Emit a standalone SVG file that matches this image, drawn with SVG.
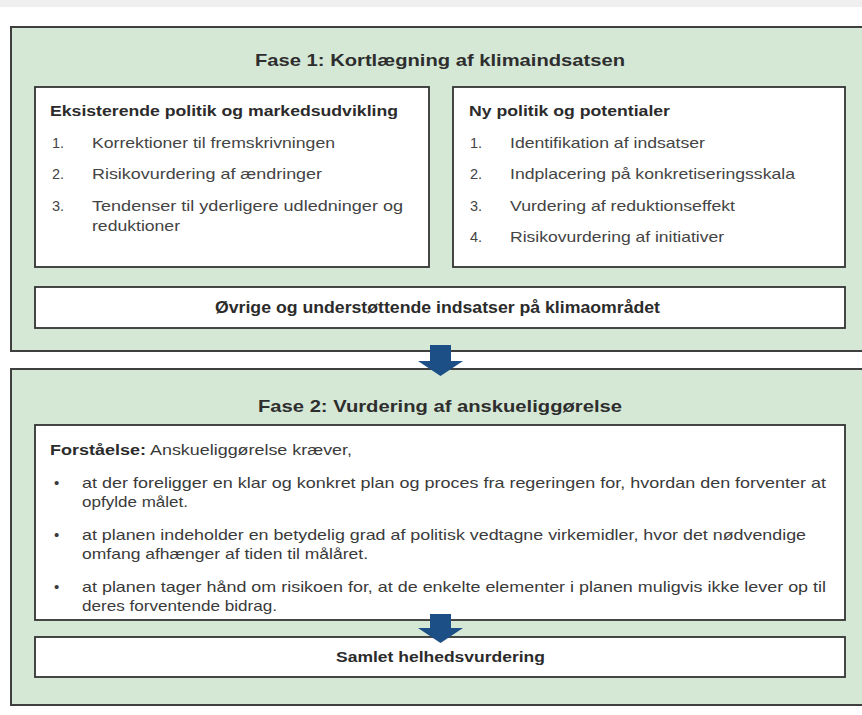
<svg xmlns="http://www.w3.org/2000/svg" width="862" height="715" viewBox="0 0 862 715">
  <style>
    .phase { fill: #d5e8d6; stroke: #3f3f3f; stroke-width: 2; }
    .box { fill: #ffffff; stroke: #333333; stroke-width: 1.8; }
    .title { font-family: "Liberation Sans", Arial, sans-serif; font-size: 17px; font-weight: bold; fill: #2e2e2e; }
    .head { font-family: "Liberation Sans", Arial, sans-serif; font-size: 14.5px; font-weight: bold; fill: #2b2b2b; }
    .item { font-family: "Liberation Sans", Arial, sans-serif; font-size: 14.5px; fill: #444444; }
    .body { font-family: "Liberation Sans", Arial, sans-serif; font-size: 15px; fill: #3a3a3a; }
    .bodyb { font-family: "Liberation Sans", Arial, sans-serif; font-size: 14.5px; font-weight: bold; fill: #2b2b2b; }
    .arrow { fill: #1c4f86; }
  </style>

  <!-- page background -->
  <rect x="0" y="0" width="862" height="715" fill="#ffffff"/>
  <rect x="0" y="0" width="862" height="7" fill="#efefef"/>

  <!-- Phase 1 -->
  <g id="fase1">
    <rect class="phase" x="11" y="27" width="860" height="324"/>
    <text class="title" x="255" y="66" textLength="370" lengthAdjust="spacingAndGlyphs">Fase 1: Kortlægning af klimaindsatsen</text>
  </g>

  <g id="eksisterende">
    <rect class="box" x="35" y="87" width="394" height="180"/>
    <text class="head" x="50" y="116" textLength="348" lengthAdjust="spacingAndGlyphs">Eksisterende politik og markedsudvikling</text>
    <text class="item" x="52" y="148">1.</text>
    <text class="item" x="92" y="148" textLength="243" lengthAdjust="spacingAndGlyphs">Korrektioner til fremskrivningen</text>
    <text class="item" x="52" y="179">2.</text>
    <text class="item" x="92" y="179" textLength="230" lengthAdjust="spacingAndGlyphs">Risikovurdering af ændringer</text>
    <text class="item" x="52" y="211">3.</text>
    <text class="item" x="92" y="211" textLength="311" lengthAdjust="spacingAndGlyphs">Tendenser til yderligere udledninger og</text>
    <text class="item" x="92" y="231" textLength="88" lengthAdjust="spacingAndGlyphs">reduktioner</text>
  </g>

  <g id="ny-politik">
    <rect class="box" x="453" y="87" width="392" height="180"/>
    <text class="head" x="469" y="116" textLength="201" lengthAdjust="spacingAndGlyphs">Ny politik og potentialer</text>
    <text class="item" x="470" y="148">1.</text>
    <text class="item" x="510" y="148" textLength="195" lengthAdjust="spacingAndGlyphs">Identifikation af indsatser</text>
    <text class="item" x="470" y="179">2.</text>
    <text class="item" x="510" y="179" textLength="285" lengthAdjust="spacingAndGlyphs">Indplacering på konkretiseringsskala</text>
    <text class="item" x="470" y="211">3.</text>
    <text class="item" x="510" y="211" textLength="225" lengthAdjust="spacingAndGlyphs">Vurdering af reduktionseffekt</text>
    <text class="item" x="470" y="242">4.</text>
    <text class="item" x="510" y="242" textLength="214" lengthAdjust="spacingAndGlyphs">Risikovurdering af initiativer</text>
  </g>

  <g id="oevrige">
    <rect class="box" x="35" y="287" width="810" height="41"/>
    <text class="bodyb" x="215" y="313" style="font-size:16px" textLength="445" lengthAdjust="spacingAndGlyphs">Øvrige og understøttende indsatser på klimaområdet</text>
  </g>

  <!-- Phase 2 -->
  <g id="fase2">
    <rect class="phase" x="11" y="369" width="860" height="336"/>
    <text class="title" x="258" y="412" textLength="364" lengthAdjust="spacingAndGlyphs">Fase 2: Vurdering af anskueliggørelse</text>
  </g>

  <g id="forstaaelse">
    <rect class="box" x="35" y="425" width="810" height="195"/>
    <text class="bodyb" x="50" y="455" textLength="96" lengthAdjust="spacingAndGlyphs">Forståelse:</text>
    <text class="body" x="150" y="455" textLength="202" lengthAdjust="spacingAndGlyphs">Anskueliggørelse kræver,</text>

    <text class="body" x="54" y="488">•</text>
    <text class="body" x="82" y="488" textLength="744" lengthAdjust="spacingAndGlyphs">at der foreligger en klar og konkret plan og proces fra regeringen for, hvordan den forventer at</text>
    <text class="body" x="82" y="507" textLength="106" lengthAdjust="spacingAndGlyphs">opfylde målet.</text>

    <text class="body" x="54" y="540">•</text>
    <text class="body" x="82" y="540" textLength="724" lengthAdjust="spacingAndGlyphs">at planen indeholder en betydelig grad af politisk vedtagne virkemidler, hvor det nødvendige</text>
    <text class="body" x="82" y="559" textLength="286" lengthAdjust="spacingAndGlyphs">omfang afhænger af tiden til målåret.</text>

    <text class="body" x="54" y="592">•</text>
    <text class="body" x="82" y="592" textLength="744" lengthAdjust="spacingAndGlyphs">at planen tager hånd om risikoen for, at de enkelte elementer i planen muligvis ikke lever op til</text>
    <text class="body" x="82" y="611" textLength="195" lengthAdjust="spacingAndGlyphs">deres forventende bidrag.</text>
  </g>

  <g id="samlet">
    <rect class="box" x="35" y="637" width="810" height="40"/>
    <text class="bodyb" x="336" y="662" textLength="209" lengthAdjust="spacingAndGlyphs">Samlet helhedsvurdering</text>
  </g>

  <!-- flow arrows -->
  <g id="connectors">
    <path class="arrow" d="M430,345 H451 V361 H463 L440.5,376 L418,361 H430 Z"/>
    <path class="arrow" d="M430,614 H451 V628 H463 L440.5,643 L418,628 H430 Z"/>
  </g>
</svg>
